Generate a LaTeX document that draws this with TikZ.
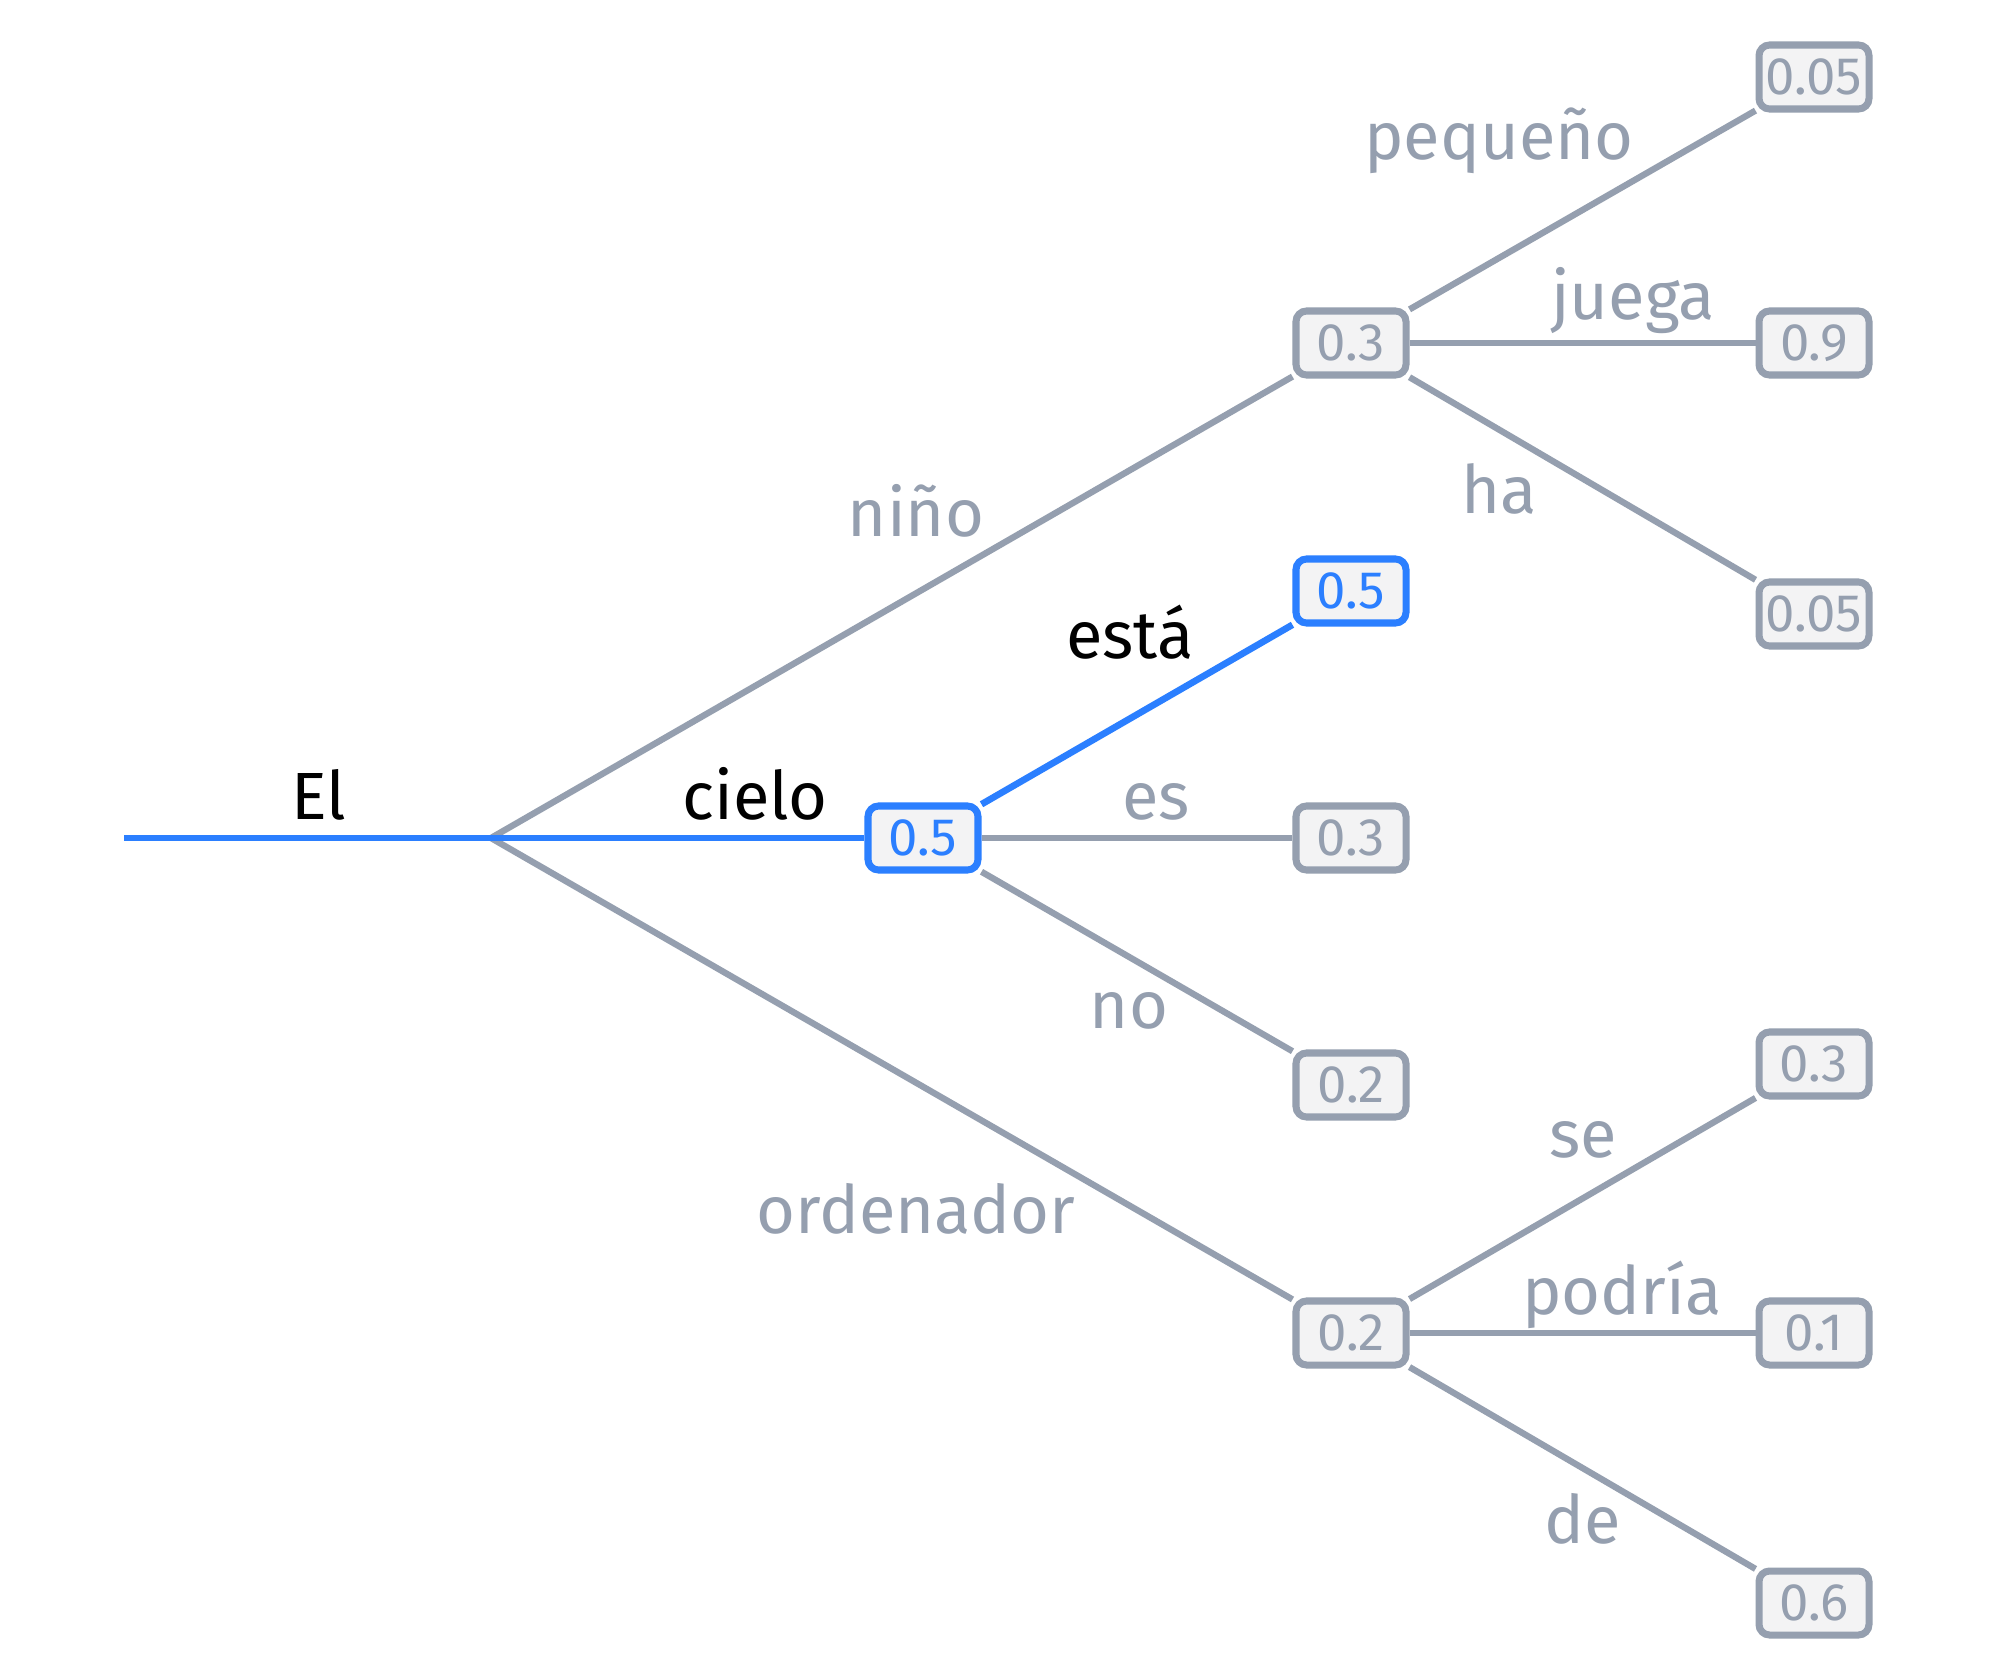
\documentclass[tikz,border=0pt]{standalone}
\usepackage{fontspec}
\setmainfont{Fira Sans}
\usetikzlibrary{positioning}
\definecolor{slate}{HTML}{959FAF}
\definecolor{hlblue}{HTML}{2B7FFF}
\definecolor{boxfill}{HTML}{F3F3F4}
\tikzset{
  prob/.style={draw=slate, rounded corners=3pt, line width=2pt, fill=boxfill, text=slate, minimum width=1.1cm, minimum height=0.64cm, inner sep=0pt, font=\fontsize{15}{17}\selectfont},
  probhl/.style={prob, draw=hlblue, text=hlblue},
  link/.style={draw=slate, line width=1.8pt},
  linkhl/.style={draw=hlblue, line width=1.9pt},
  word/.style={text=slate, anchor=base, font=\fontsize{19}{22}\selectfont},
  wordhl/.style={word, text=black}
}
\begin{document}
\begin{tikzpicture}
\useasboundingbox (0,0) rectangle (20,-16.77);
\fill[white] (0,0) rectangle (20,-16.77);
% start and branching point
\coordinate (start) at (1.24,-8.38);
\coordinate (root) at (4.91,-8.38);
% level one
\node[probhl] (cielo) at (9.23,-8.38) {0.5};
% level two
\node[prob] (nino) at (13.51,-3.43) {0.3};
\node[probhl] (esta) at (13.51,-5.91) {0.5};
\node[prob] (es) at (13.51,-8.38) {0.3};
\node[prob] (no) at (13.51,-10.85) {0.2};
\node[prob] (orden) at (13.51,-13.33) {0.2};
% level three
\node[prob] (pequeno) at (18.14,-0.77) {0.05};
\node[prob] (juega) at (18.14,-3.43) {0.9};
\node[prob] (ha) at (18.14,-6.14) {0.05};
\node[prob] (se) at (18.14,-10.64) {0.3};
\node[prob] (podria) at (18.14,-13.33) {0.1};
\node[prob] (de) at (18.14,-16.03) {0.6};
% connectors
\draw[link] (root) -- (nino);
\draw[link] (root) -- (orden);
\draw[link] (cielo) -- (es);
\draw[link] (cielo) -- (no);
\draw[link] (nino) -- (pequeno);
\draw[link] (nino) -- (juega);
\draw[link] (nino) -- (ha);
\draw[link] (orden) -- (se);
\draw[link] (orden) -- (podria);
\draw[link] (orden) -- (de);
\draw[linkhl] (start) -- (root) -- (cielo);
\draw[linkhl] (cielo) -- (esta);
% words
\node[wordhl] (wEl) at (3.19,-8.19) {El};
\node[wordhl] (wcielo) at (7.55,-8.19) {cielo};
\node[word] (wnino) at (9.16,-5.36) {niño};
\node[word] (worden) at (9.16,-12.33) {ordenador};
\node[wordhl] (westa) at (11.30,-6.58) {está};
\node[word] (wes) at (11.56,-8.19) {es};
\node[word] (wno) at (11.29,-10.28) {no};
\node[word] (wpeq) at (14.99,-1.59) {pequeño};
\node[word] (wjuega) at (16.33,-3.19) {juega};
\node[word] (wha) at (14.99,-5.13) {ha};
\node[word] (wse) at (15.83,-11.57) {se};
\node[word] (wpod) at (16.22,-13.14) {podría};
\node[word] (wde) at (15.83,-15.43) {de};
\end{tikzpicture}
\end{document}
